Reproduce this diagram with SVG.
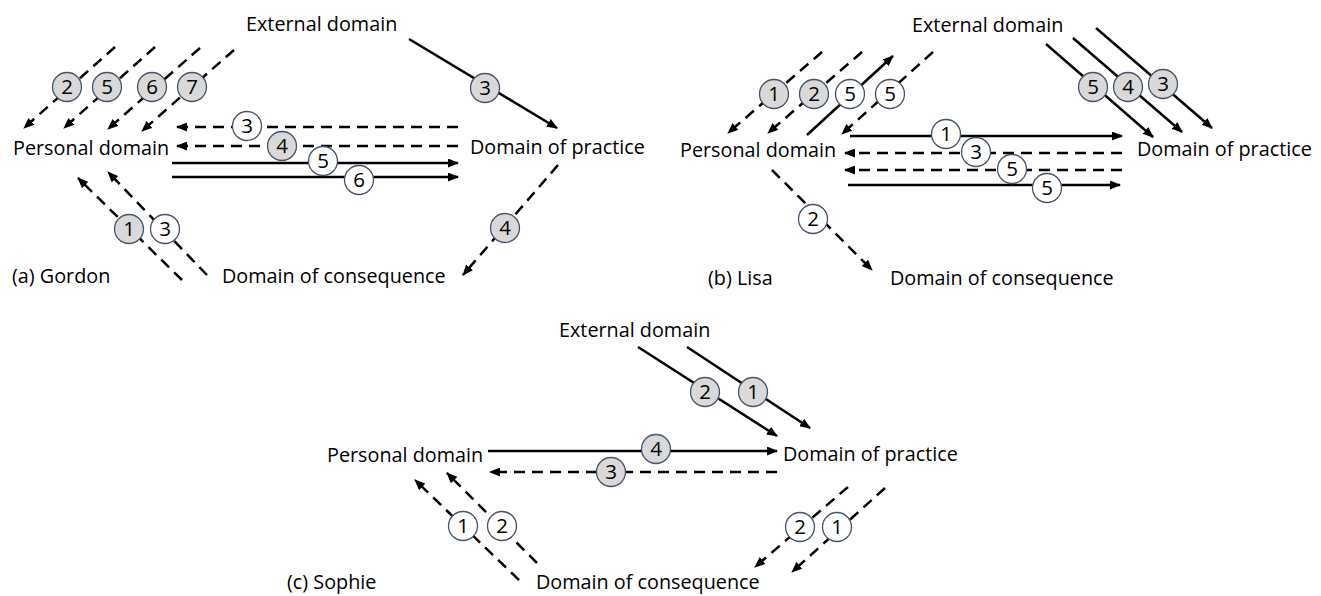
<svg xmlns="http://www.w3.org/2000/svg" width="1321" height="596" viewBox="0 0 1321 596">
<style>
text{font-family:"Open Sans","Liberation Sans",sans-serif;font-size:19.8px;fill:#000}
.n{text-anchor:middle;font-size:20.5px}
.s{stroke:#000;stroke-width:2.5;fill:none;marker-end:url(#ah)}
.d{stroke:#000;stroke-width:2.5;fill:none;stroke-dasharray:11 7;marker-end:url(#ah)}
.g{fill:#d9d9d9;stroke:#44546a;stroke-width:1.3}
.w{fill:#fff;stroke:#44546a;stroke-width:1.3}
</style>
<defs>
<marker id="ah" markerUnits="userSpaceOnUse" markerWidth="11" markerHeight="9" refX="10" refY="4.5" orient="auto">
<path d="M0,0 L11,4.5 L0,9 z" fill="#000"/>
</marker>
</defs>
<rect width="1321" height="596" fill="#fff"/>

<!-- Panel (a) nodes -->
<g id="a-external"><text x="246" y="31">External domain</text></g>
<g id="a-personal"><text x="13" y="155">Personal domain</text></g>
<g id="a-practice"><text x="470" y="154">Domain of practice</text></g>
<g id="a-consequence"><text x="222" y="283">Domain of consequence</text></g>
<g id="a-caption"><text x="12" y="283">(a) Gordon</text></g>

<!-- Panel (b) nodes -->
<g id="b-external"><text x="912" y="32">External domain</text></g>
<g id="b-personal"><text x="680" y="157">Personal domain</text></g>
<g id="b-practice"><text x="1137" y="156">Domain of practice</text></g>
<g id="b-consequence"><text x="890" y="285">Domain of consequence</text></g>
<g id="b-caption"><text x="708" y="285">(b) Lisa</text></g>

<!-- Panel (c) nodes -->
<g id="c-external"><text x="559" y="337">External domain</text></g>
<g id="c-personal"><text x="327" y="462">Personal domain</text></g>
<g id="c-practice"><text x="783" y="461">Domain of practice</text></g>
<g id="c-consequence"><text x="536" y="589">Domain of consequence</text></g>
<g id="c-caption"><text x="287" y="589">(c) Sophie</text></g>

<g id="connectors">
<!-- (a) -->
<line class="d" x1="115" y1="47" x2="24" y2="128"/>
<line class="d" x1="155" y1="47" x2="64" y2="128"/>
<line class="d" x1="200" y1="48" x2="108" y2="129"/>
<line class="d" x1="234" y1="50" x2="142" y2="131"/>
<line class="d" x1="458" y1="127" x2="177" y2="127"/>
<line class="d" x1="458" y1="146" x2="177" y2="146"/>
<line class="s" x1="172" y1="163" x2="458" y2="163"/>
<line class="s" x1="172" y1="177" x2="458" y2="177"/>
<line class="s" x1="409" y1="39" x2="557" y2="128"/>
<line class="d" x1="558" y1="165" x2="463" y2="275"/>
<line class="d" x1="182" y1="280" x2="78" y2="178"/>
<line class="d" x1="207" y1="275" x2="108" y2="172"/>
<!-- (b) -->
<line class="d" x1="822" y1="52" x2="728" y2="133"/>
<line class="d" x1="862" y1="52" x2="768" y2="133"/>
<line class="s" x1="807" y1="135" x2="893" y2="56"/>
<line class="d" x1="933" y1="52" x2="842" y2="134"/>
<line class="s" x1="850" y1="136" x2="1122" y2="136"/>
<line class="d" x1="1122" y1="153" x2="845" y2="153"/>
<line class="d" x1="1122" y1="170" x2="845" y2="170"/>
<line class="s" x1="848" y1="185" x2="1120" y2="185"/>
<line class="d" x1="772" y1="170" x2="872" y2="270"/>
<line class="s" x1="1046" y1="44" x2="1153" y2="137"/>
<line class="s" x1="1073" y1="38" x2="1182" y2="132"/>
<line class="s" x1="1096" y1="28" x2="1212" y2="128"/>
<!-- (c) -->
<line class="s" x1="638" y1="347" x2="777" y2="436"/>
<line class="s" x1="687" y1="347" x2="810" y2="428"/>
<line class="s" x1="488" y1="451" x2="777" y2="451"/>
<line class="d" x1="777" y1="472" x2="490" y2="472"/>
<line class="d" x1="519" y1="580" x2="415" y2="480"/>
<line class="d" x1="537" y1="563" x2="447" y2="473"/>
<line class="d" x1="848" y1="487" x2="755" y2="567"/>
<line class="d" x1="885" y1="488" x2="792" y2="572"/>
</g>

<g id="labels">
<!-- (a) -->
<circle class="g" cx="67" cy="87" r="14.5"/><text class="n" x="67" y="94">2</text>
<circle class="g" cx="107" cy="87" r="14.5"/><text class="n" x="107" y="94">5</text>
<circle class="g" cx="152" cy="87" r="14.5"/><text class="n" x="152" y="94">6</text>
<circle class="g" cx="192" cy="87" r="14.5"/><text class="n" x="192" y="94">7</text>
<circle class="w" cx="247" cy="126" r="14.5"/><text class="n" x="247" y="133">3</text>
<circle class="g" cx="282" cy="146" r="14.5"/><text class="n" x="282" y="153">4</text>
<circle class="w" cx="323" cy="161" r="14.5"/><text class="n" x="323" y="168">5</text>
<circle class="w" cx="359" cy="180" r="14.5"/><text class="n" x="359" y="187">6</text>
<circle class="g" cx="485" cy="88" r="14.5"/><text class="n" x="485" y="95">3</text>
<circle class="g" cx="505" cy="228" r="14.5"/><text class="n" x="505" y="235">4</text>
<circle class="g" cx="129" cy="229" r="14.5"/><text class="n" x="129" y="236">1</text>
<circle class="w" cx="165" cy="229" r="14.5"/><text class="n" x="165" y="236">3</text>
<!-- (b) -->
<circle class="g" cx="774" cy="94" r="14.5"/><text class="n" x="774" y="101">1</text>
<circle class="g" cx="814" cy="94" r="14.5"/><text class="n" x="814" y="101">2</text>
<circle class="w" cx="850" cy="94" r="14.5"/><text class="n" x="850" y="101">5</text>
<circle class="w" cx="890" cy="94" r="14.5"/><text class="n" x="890" y="101">5</text>
<circle class="w" cx="946" cy="134" r="14.5"/><text class="n" x="946" y="141">1</text>
<circle class="w" cx="976" cy="152" r="14.5"/><text class="n" x="976" y="159">3</text>
<circle class="w" cx="1012" cy="169" r="14.5"/><text class="n" x="1012" y="176">5</text>
<circle class="w" cx="1047" cy="188" r="14.5"/><text class="n" x="1047" y="195">5</text>
<circle class="w" cx="813" cy="219" r="14.5"/><text class="n" x="813" y="226">2</text>
<circle class="g" cx="1093" cy="87" r="14.5"/><text class="n" x="1093" y="94">5</text>
<circle class="g" cx="1128" cy="87" r="14.5"/><text class="n" x="1128" y="94">4</text>
<circle class="g" cx="1163" cy="84" r="14.5"/><text class="n" x="1163" y="91">3</text>
<!-- (c) -->
<circle class="g" cx="705" cy="392" r="14.5"/><text class="n" x="705" y="399">2</text>
<circle class="g" cx="753" cy="392" r="14.5"/><text class="n" x="753" y="399">1</text>
<circle class="g" cx="656" cy="449" r="14.5"/><text class="n" x="656" y="456">4</text>
<circle class="g" cx="611" cy="472" r="14.5"/><text class="n" x="611" y="479">3</text>
<circle class="w" cx="463" cy="526" r="14.5"/><text class="n" x="463" y="533">1</text>
<circle class="w" cx="502" cy="526" r="14.5"/><text class="n" x="502" y="533">2</text>
<circle class="w" cx="800" cy="527" r="14.5"/><text class="n" x="800" y="534">2</text>
<circle class="w" cx="837" cy="527" r="14.5"/><text class="n" x="837" y="534">1</text>
</g>
</svg>
